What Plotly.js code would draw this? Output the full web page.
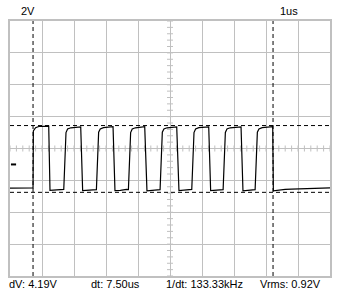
<!DOCTYPE html>
<html>
<head>
<meta charset="utf-8">
<script src="https://cdn.plot.ly/plotly-3.0.1.min.js"></script>
<style>
  html, body { margin: 0; padding: 0; background: #ffffff; }
  #chart { width: 342px; height: 299px; }
</style>
</head>
<body>
<div id="chart"></div>
<script>
// ---- data (time in us, voltage in V relative to screen centre) ----
var timeUs = [
  0.00, 0.40, 0.72,
  0.73, 0.80, 0.90, 1.21, 1.25, 1.45, 1.62,
  1.68, 1.75, 1.80, 1.90, 2.21, 2.27, 2.45, 2.62,
  2.70, 2.77, 2.82, 2.92, 3.22, 3.28, 3.45, 3.64,
  3.70, 3.77, 3.82, 3.92, 4.21, 4.28, 4.45, 4.63,
  4.69, 4.76, 4.81, 4.91, 5.21, 5.28, 5.45, 5.62,
  5.68, 5.75, 5.80, 5.90, 6.21, 6.27, 6.45, 6.60,
  6.66, 6.73, 6.78, 6.88, 7.22, 7.28, 7.45, 7.60,
  7.66, 7.73, 7.78, 7.88, 8.21, 8.23,
  8.40, 8.60, 8.80, 9.00, 9.20, 9.40, 9.60, 9.80, 10.00
];
var volts = [
  -2.48, -2.47, -2.47,
  1.10, 1.30, 1.38, 1.40, -2.62, -2.60, -2.56,
  -2.57, 1.00, 1.22, 1.30, 1.36, -2.64, -2.62, -2.57,
  -2.58, 1.02, 1.22, 1.31, 1.37, -2.64, -2.63, -2.56,
  -2.58, 1.00, 1.23, 1.30, 1.37, -2.65, -2.62, -2.57,
  -2.58, 1.02, 1.22, 1.30, 1.35, -2.64, -2.62, -2.56,
  -2.57, 1.00, 1.22, 1.31, 1.36, -2.64, -2.62, -2.57,
  -2.58, 1.01, 1.23, 1.30, 1.36, -2.65, -2.63, -2.58,
  -2.58, 1.02, 1.22, 1.31, 1.37, -2.66,
  -2.60, -2.56, -2.55, -2.54, -2.52, -2.53, -2.50, -2.49, -2.47
];
var cursorTimes = [0.72, 8.22];     // us
var cursorVolts = [1.44, -2.75];    // V
var groundLevel = -1.0;             // V
var topLabels = ['2V', '1us'];
var bottomLabels = ['dV: 4.19V', 'dt: 7.50us', '1/dt: 133.33kHz', 'Vrms: 0.92V'];

// ---- layout helpers ----
var xRange = [0, 10], yRange = [-8, 8];
var grid = '#c0c0c0';
var font = { family: 'Liberation Sans, Arial, sans-serif', size: 11, color: '#000000' };

var shapes = [];
// minor ticks on the centre cross
for (var i = 0; i <= 50; i++) {
  var tx = i * 0.2;
  shapes.push({ type: 'line', xref: 'x', yref: 'y', x0: tx, x1: tx, y0: -0.19, y1: 0.19,
                line: { color: grid, width: 1 }, layer: 'below' });
}
for (var j = 0; j <= 40; j++) {
  var ty = -8 + j * 0.4;
  shapes.push({ type: 'line', xref: 'x', yref: 'y', x0: 4.906, x1: 5.094, y0: ty, y1: ty,
                line: { color: grid, width: 1 }, layer: 'below' });
}
// cursors
cursorTimes.forEach(function (t) {
  shapes.push({ type: 'line', xref: 'x', yref: 'paper', x0: t, x1: t, y0: 0, y1: 1,
                line: { color: '#000000', width: 1, dash: '4px,3px' } });
});
cursorVolts.forEach(function (v) {
  shapes.push({ type: 'line', xref: 'paper', yref: 'y', x0: 0, x1: 1, y0: v, y1: v,
                line: { color: '#000000', width: 1, dash: '4px,3px' } });
});
// ground marker
shapes.push({ type: 'line', xref: 'x', yref: 'y', x0: 0.03, x1: 0.19, y0: groundLevel, y1: groundLevel,
              line: { color: '#000000', width: 2 } });

var topPos = [0.028, 0.8375];
var bottomPos = [-0.0094, 0.2469, 0.481, 0.775];
var annotations = [];
topLabels.forEach(function (s, k) {
  annotations.push({ text: s, xref: 'paper', yref: 'paper', x: topPos[k], y: 1.041,
                     xanchor: 'left', yanchor: 'middle', showarrow: false, font: font });
});
bottomLabels.forEach(function (s, k) {
  annotations.push({ text: s, xref: 'paper', yref: 'paper', x: bottomPos[k], y: -0.0333,
                     xanchor: 'left', yanchor: 'middle', showarrow: false, font: font });
});

var trace = {
  x: timeUs, y: volts, type: 'scatter', mode: 'lines',
  line: { color: '#000000', width: 1.2 }, hoverinfo: 'skip', showlegend: false
};

var layout = {
  width: 342, height: 299,
  margin: { l: 10, r: 12, t: 21, b: 23, pad: 0 },
  paper_bgcolor: '#ffffff', plot_bgcolor: '#ffffff',
  font: font,
  showlegend: false,
  xaxis: { range: xRange, dtick: 1, tick0: 0, showgrid: true, gridcolor: grid, gridwidth: 1,
           zeroline: false, showticklabels: false, ticks: '', showline: true, mirror: true,
           linecolor: grid, linewidth: 2, fixedrange: true },
  yaxis: { range: yRange, dtick: 2, tick0: 0, showgrid: true, gridcolor: grid, gridwidth: 1,
           zeroline: false, showticklabels: false, ticks: '', showline: true, mirror: true,
           linecolor: grid, linewidth: 2, fixedrange: true },
  shapes: shapes,
  annotations: annotations
};

Plotly.newPlot('chart', [trace], layout, { displayModeBar: false, staticPlot: true });
</script>
</body>
</html>
